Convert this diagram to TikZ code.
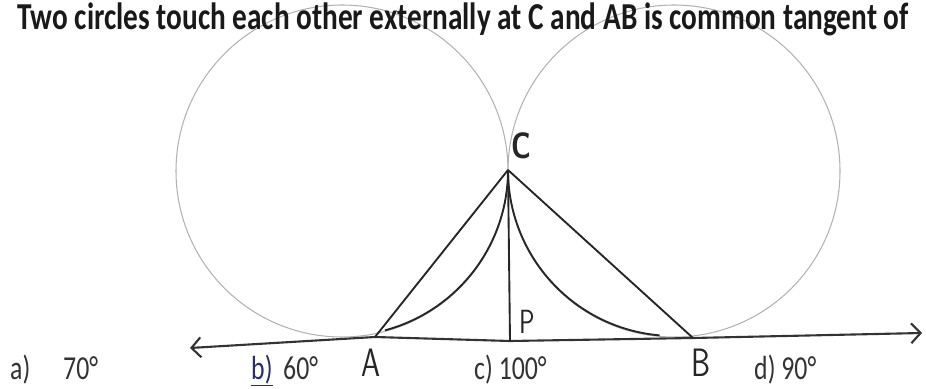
\documentclass[tikz,border=0pt]{standalone}
\usepackage{fontspec}
\usepackage{graphicx}
\setmainfont{Carlito}
\usetikzlibrary{arrows.meta,calc}
\definecolor{penblue}{RGB}{40,45,110}
\newcommand{\talltext}[1]{\scalebox{1}[1.3]{#1}}

\begin{document}
\begin{tikzpicture}[x=0.03cm,y=0.03cm,
  circ/.style={gray!60,line width=0.9pt},
  seg/.style={black!85,line width=1.6pt},
  tang/.style={black!80,line width=1.8pt,
               {Straight Barb[length=8pt,width=17pt]}-{Straight Barb[length=8pt,width=17pt]}},
  txt/.style={anchor=base west,inner sep=0pt,text=black!80,font=\fontsize{22}{24}\selectfont},
  hand/.style={inner sep=0pt,text=black!85,font=\fontsize{26}{26}\selectfont\sffamily}
]
\useasboundingbox (0,0) rectangle (926,388);
\clip (0,0) rectangle (926,388);

% centres and points of the figure
\coordinate (L) at (342,217);
\coordinate (R) at (674,217);
\coordinate (C) at (508,218);
\coordinate (A) at (375,51);
\coordinate (B) at (693,50);
\coordinate (P) at (510,47);
\coordinate (west) at (190,40);
\coordinate (east) at (922,55);

\draw[circ] (L) circle[radius=166];
\draw[circ] (R) circle[radius=166];
\draw[seg] (C) arc[start angle=0,end angle=-75,radius=166];
\draw[seg] (C) arc[start angle=180,end angle=265,radius=166];

\draw[tang] (west) -- (A) -- (P) -- (B) -- (east);
\draw[seg] (C) -- (A);
\draw[seg] (C) -- (B);
\draw[seg] (C) -- (P);

\node[txt,text=black!90,font=\fontsize{25}{26}\selectfont\bfseries] (title) at (17,358)
  {\talltext{Two circles touch each other externally at C and AB is common tangent of}};

\node[hand,font=\fontsize{24}{24}\selectfont\sffamily\bfseries] (lC) at (521,242) {\talltext{C}};
\node[hand,font=\fontsize{22}{22}\selectfont\sffamily] (lP) at (527,66) {\talltext{P}};
\node[hand] (lA) at (371,25) {\talltext{A}};
\node[hand] (lB) at (701,25) {\talltext{B}};

\node[txt] (oa) at (10,9) {\talltext{a)}};
\node[txt] (va) at (63,9) {\talltext{70°}};
\node[txt] (ob) at (251,9) {\talltext{\textcolor{penblue}{\underline{b)}}}};
\node[txt] (vb) at (283,9) {\talltext{60°}};
\node[txt] (oc) at (474,9) {\talltext{c) 100°}};
\node[txt] (od) at (754,9) {\talltext{d) 90°}};
\end{tikzpicture}
\end{document}
